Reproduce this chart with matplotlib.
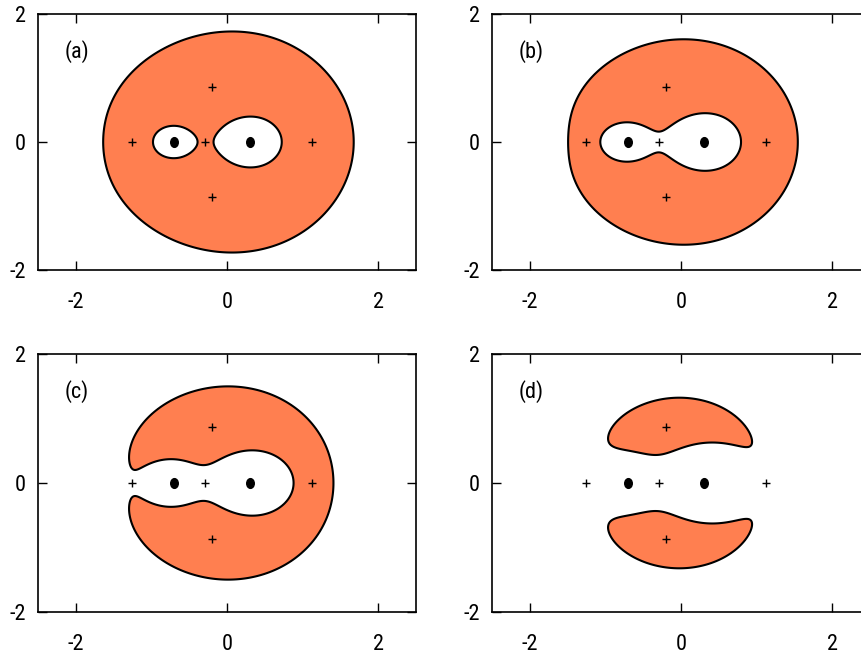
import numpy as np
import matplotlib
matplotlib.use("Agg")
import matplotlib.pyplot as plt
from matplotlib.path import Path
from matplotlib.transforms import Affine2D

plt.rcParams['font.family'] = ['Roboto Condensed', 'Liberation Sans Narrow', 'DejaVu Sans']
plt.rcParams['font.stretch'] = 'condensed'
plt.rcParams['axes.unicode_minus'] = False

# charges sitting on the real axis (filled dots)
DOT_X = [-0.7, 0.3]
# critical points of the potential (plus signs)
CRIT_X = [-1.26, -0.285, 1.12]
CRIT_Y = [0.0, 0.0, 0.0]
MIN_X = [-0.20, -0.20]
MIN_Y = [0.865, -0.865]

# potential coefficients: log|z-0.3|, x, x^2, y^2, x^3, x*y^2, x^4, x^2*y^2, y^4
COEF = [-1.7844, 0.1541, 1.3900, 1.5719, -0.0348, -0.0630, -0.0735, -0.1844, -0.1212]
# level of the filled region in each panel
LEVELS = [1.9841, 1.8093, 1.6580, 1.4317]
LABELS = ['(a)', '(b)', '(c)', '(d)']

FILL = '#ff7f50'


def potential(x, y):
    c = COEF
    v = (-np.log(np.hypot(x - DOT_X[0], y))
         + c[0] * np.log(np.hypot(x - DOT_X[1], y))
         + c[1] * x + c[2] * x**2 + c[3] * y**2
         + c[4] * x**3 + c[5] * x * y**2
         + c[6] * x**4 + c[7] * x**2 * y**2 + c[8] * y**4)
    # keep the far field high so nothing shows up in the corners
    r = np.hypot(x, y)
    return v + 20.0 * np.clip(r - 2.0, 0, None)**2


xs = np.linspace(-2.5, 2.5, 900)
ys = np.linspace(-2.0, 2.0, 720)
X, Y = np.meshgrid(xs, ys)
with np.errstate(divide='ignore'):
    V = potential(X, Y)
V = np.nan_to_num(V, posinf=1e6)

# slightly tall dot marker
dot = Path.unit_circle().transformed(Affine2D().scale(0.78, 1.0))

W, H = 861, 654
fig = plt.figure(figsize=(W / 100, H / 100), dpi=100)

# panel frames in pixels: left, top, right, bottom
frames = [(38, 14, 416, 270), (492, 14, 870, 270),
          (38, 354, 416, 612), (492, 354, 870, 612)]

for k, (l, t, r, b) in enumerate(frames):
    ax = fig.add_axes([l / W, (H - b) / H, (r - l) / W, (b - t) / H])
    ax.contourf(X, Y, V, levels=[-1e9, LEVELS[k]], colors=[FILL])
    ax.contour(X, Y, V, levels=[LEVELS[k]], colors='black', linewidths=1.5)

    ax.plot(DOT_X, [0, 0], ls='none', marker=dot, color='black', ms=7, mec='black')
    ax.plot(CRIT_X, CRIT_Y, '+', color='black', ms=6, mew=1.0)
    ax.plot(MIN_X, MIN_Y, '+', color='black', ms=6, mew=1.0)

    ax.text(-2.15, 1.42, LABELS[k], fontsize=16, ha='left', va='center')

    ax.set_xlim(-2.5, 2.5)
    ax.set_ylim(-2, 2)
    ax.set_xticks([-2, 0, 2])
    ax.set_yticks([-2, 0, 2])
    ax.tick_params(direction='in', length=6.5, width=1.0, top=True, right=True,
                   labelsize=16)
    ax.tick_params(axis='y', pad=9)
    ax.tick_params(axis='x', pad=15.5)
    for s in ax.spines.values():
        s.set_linewidth(1.2)

fig.savefig('out.png', dpi=100)
